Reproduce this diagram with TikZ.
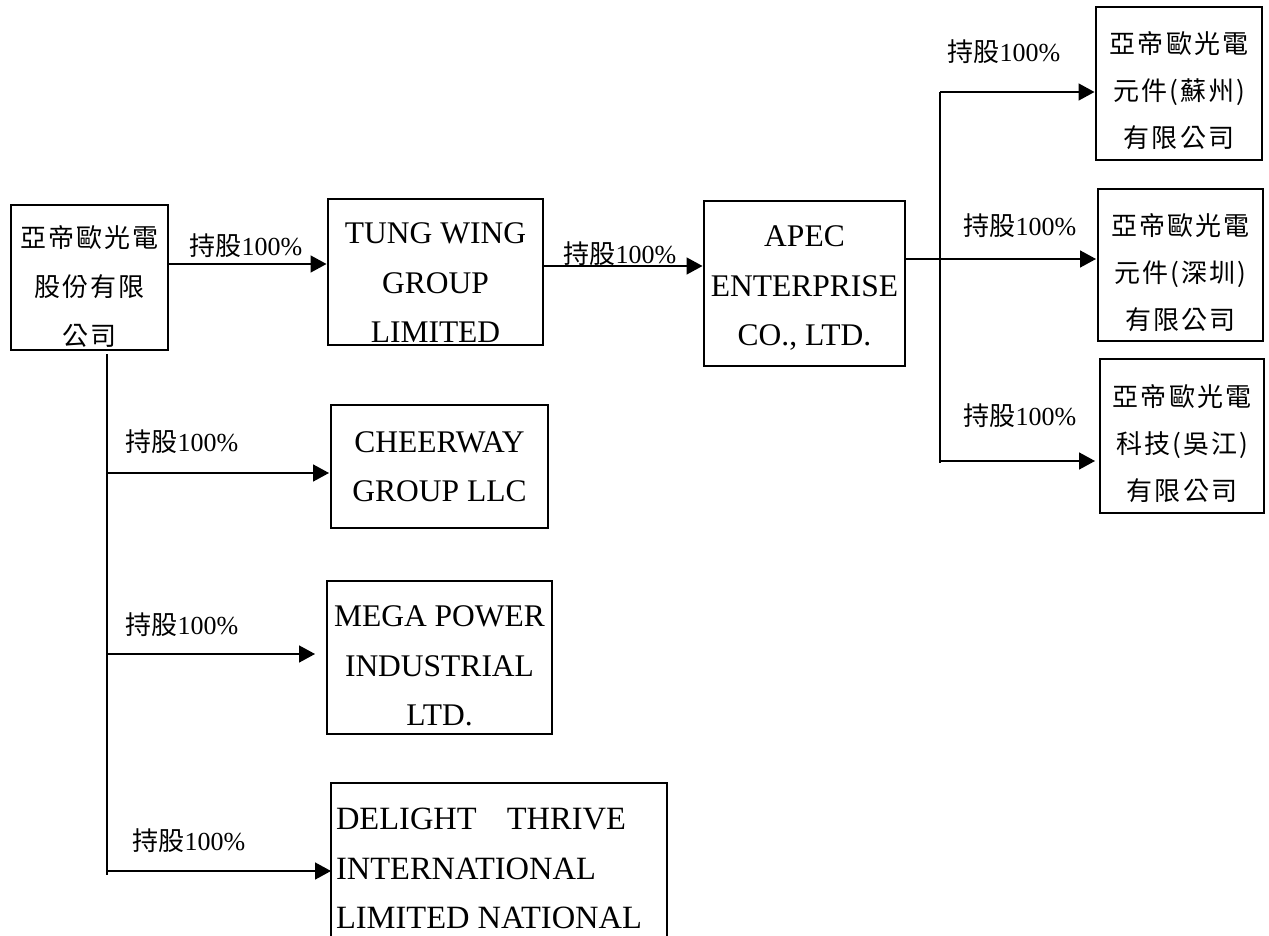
\documentclass[tikz,border=0pt]{standalone}
\usepackage{fontspec}
\setmainfont{Liberation Serif}
\newfontfamily\cjkbox[LetterSpace=8]{Noto Sans CJK TC}
\newfontfamily\cjklab{Noto Sans CJK TC}
\usetikzlibrary{arrows.meta}
\newcommand{\boxlines}[4][31.5]{\raisebox{#3}[0pt][0pt]{\fontsize{#1}{49.5}\selectfont\renewcommand\arraystretch{1}\begin{tabular}{@{}#2@{}}#4\end{tabular}}}
\newcommand{\cjklines}[3][47]{\raisebox{#2}[0pt][0pt]{\fontsize{26}{#1}\selectfont\cjkbox\renewcommand\arraystretch{1}\begin{tabular}{@{}c@{}}#3\end{tabular}}}
\newcommand{\stake}{{\fontsize{26}{26}\selectfont\cjklab 持股\rmfamily 100\%}}
\tikzset{
  company/.style={draw=black,line width=1.6pt,inner sep=0pt,outer sep=0pt,anchor=center},
  stakelabel/.style={inner sep=0pt,anchor=center},
  link/.style={line width=1.6pt},
  arrowlink/.style={link,-{Triangle[length=16pt,width=17pt]}}
}
\begin{document}
\begin{tikzpicture}[x=1pt,y=-1pt]
\path[use as bounding box,clip] (0,0) rectangle (1269,936);
% boxes
\node[company,minimum width=157pt,minimum height=145pt] (parent) at (89.5,277.5) {\cjklines[49]{-15pt}{亞帝歐光電\\股份有限\\公司}};
\node[company,minimum width=215pt,minimum height=146pt] (tung) at (435.5,272) {\boxlines{c}{-17.5pt}{TUNG WING\\GROUP\\LIMITED}};
\node[company,minimum width=201pt,minimum height=165pt] (apec) at (804.5,283.5) {\boxlines{c}{-9pt}{APEC\\ENTERPRISE\\CO., LTD.}};
\node[company,minimum width=217pt,minimum height=123pt] (cheer) at (439.5,466.5) {\boxlines{c}{-7pt}{CHEERWAY\\GROUP LLC}};
\node[company,minimum width=225pt,minimum height=153pt] (mega) at (439.5,657.5) {\boxlines{c}{-15pt}{MEGA POWER\\INDUSTRIAL\\LTD.}};
\node[company,minimum width=336pt,minimum height=177pt] (delight) at (499,871.5) {\hspace{-20pt}\boxlines[32.5]{l}{-4pt}{DELIGHT\hspace{30pt}THRIVE\\INTERNATIONAL\\LIMITED NATIONAL}};
\node[company,minimum width=166pt,minimum height=153pt] (suzhou) at (1179,83.5) {\cjklines{-14pt}{亞帝歐光電\\元件(蘇州)\\有限公司}};
\node[company,minimum width=165pt,minimum height=152pt] (shenzhen) at (1180.5,265) {\cjklines{-14pt}{亞帝歐光電\\元件(深圳)\\有限公司}};
\node[company,minimum width=164pt,minimum height=154pt] (wujiang) at (1182,436) {\cjklines{-14pt}{亞帝歐光電\\科技(吳江)\\有限公司}};
% labels
\node[stakelabel] (l1) at (246,246) {\stake};
\node[stakelabel] (l2) at (620,254) {\stake};
\node[stakelabel] (l3) at (182,442) {\stake};
\node[stakelabel] (l4) at (182,625) {\stake};
\node[stakelabel] (l5) at (189,841) {\stake};
\node[stakelabel] (l6) at (1004,52) {\stake};
\node[stakelabel] (l7) at (1020,226) {\stake};
\node[stakelabel] (l8) at (1020,416) {\stake};
% junctions
\coordinate (p1) at (168,264);
\coordinate (t1) at (543,266);
\coordinate (a1) at (905,259);
\coordinate (lt) at (107,354);
\coordinate (lb) at (107,875);
\coordinate (l1j) at (107,473);
\coordinate (l2j) at (107,654);
\coordinate (l3j) at (107,871);
\coordinate (rt) at (940,92);
\coordinate (rb) at (940,463);
\coordinate (r3j) at (940,461);
% connectors
\draw[arrowlink,shorten >=1.5pt] (p1) -- (p1 -| tung.west);
\draw[arrowlink,shorten >=1.5pt] (t1) -- (t1 -| apec.west);
\draw[link] (lt) -- (lb);
\draw[arrowlink,shorten >=2pt] (l1j) -- (l1j -| cheer.west);
\draw[arrowlink,shorten >=12pt] (l2j) -- (l2j -| mega.west);
\draw[arrowlink] (l3j) -- (l3j -| delight.west);
\draw[link] (rt) -- (rb);
\draw[arrowlink,shorten >=1.5pt] (rt) -- (rt -| suzhou.west);
\draw[arrowlink,shorten >=2pt] (a1) -- (a1 -| shenzhen.west);
\draw[arrowlink,shorten >=5pt] (r3j) -- (r3j -| wujiang.west);
\end{tikzpicture}
\end{document}
